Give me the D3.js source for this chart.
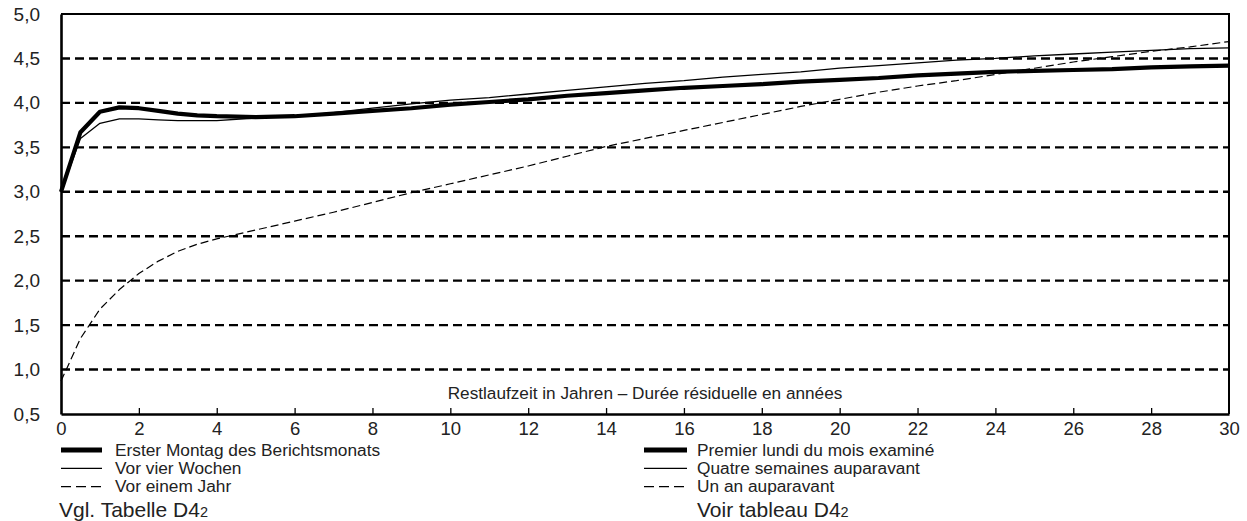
<!DOCTYPE html>
<html>
<head>
<meta charset="utf-8">
<script src="https://cdn.jsdelivr.net/npm/d3@7"></script>
<style>
  body { margin: 0; background: #fff; }
  svg { display: block; font-family: "Liberation Sans", Arial, sans-serif; }
</style>
</head>
<body>
<div class="container"></div>
<script>
// Restlaufzeit in Jahren (x)
const maturities = [0, 0.5, 1, 1.5, 2, 2.5, 3, 3.5, 4, 5, 6, 7, 8, 9, 10, 11, 12, 13, 14, 15,
  16, 17, 18, 19, 20, 21, 22, 23, 24, 25, 26, 27, 28, 29, 30];

// Erster Montag des Berichtsmonats
const current = [3.00, 3.67, 3.90, 3.95, 3.94, 3.91, 3.88, 3.86, 3.85, 3.84, 3.85, 3.88, 3.91, 3.94, 3.98,
  4.01, 4.04, 4.08, 4.11, 4.14, 4.17, 4.19, 4.21, 4.24, 4.26, 4.28, 4.31, 4.33, 4.35, 4.36, 4.37, 4.38,
  4.40, 4.41, 4.42];

// Vor vier Wochen
const fourWeeks = [3.00, 3.60, 3.77, 3.82, 3.82, 3.81, 3.80, 3.80, 3.80, 3.83, 3.85, 3.89, 3.94, 3.99, 4.03,
  4.06, 4.10, 4.14, 4.18, 4.22, 4.25, 4.29, 4.32, 4.35, 4.39, 4.42, 4.45, 4.48, 4.50, 4.53, 4.55, 4.57,
  4.59, 4.61, 4.62];

// Vor einem Jahr
const yearAgo = [0.87, 1.35, 1.68, 1.90, 2.08, 2.22, 2.33, 2.41, 2.47, 2.57, 2.67, 2.77, 2.88, 2.99, 3.09,
  3.19, 3.29, 3.40, 3.51, 3.60, 3.69, 3.78, 3.87, 3.96, 4.04, 4.12, 4.19, 4.25, 4.32, 4.39, 4.46, 4.52,
  4.58, 4.63, 4.69];

const xTicks = d3.range(0, 31, 2);
const yTicks = [0.5, 1.0, 1.5, 2.0, 2.5, 3.0, 3.5, 4.0, 4.5, 5.0];
const gridValues = [1.0, 1.5, 2.0, 2.5, 3.0, 3.5, 4.0, 4.5];

const axisTitle = "Restlaufzeit in Jahren – Durée résiduelle en années";
const legendDe = ["Erster Montag des Berichtsmonats", "Vor vier Wochen", "Vor einem Jahr"];
const legendFr = ["Premier lundi du mois examiné", "Quatre semaines auparavant", "Un an auparavant"];
const sourceDe = ["Vgl. Tabelle D4", "2"];
const sourceFr = ["Voir tableau D4", "2"];

const width = 1247, height = 521;
const x = d3.scaleLinear().domain([0, 30]).range([61, 1229]);
const y = d3.scaleLinear().domain([0.5, 5.0]).range([414, 14]);

const fmt = d => d.toFixed(1).replace(".", ",");

const svg = d3.select(".container").append("svg")
  .attr("width", width)
  .attr("height", height);

// dashed horizontal grid
svg.append("g")
  .selectAll("line")
  .data(gridValues)
  .join("line")
  .attr("x1", x(0)).attr("x2", x(30))
  .attr("y1", d => y(d)).attr("y2", d => y(d))
  .attr("stroke", "#000")
  .attr("stroke-width", 2.4)
  .attr("stroke-dasharray", "9,5");

// frame top + right
svg.append("path")
  .attr("d", `M${x(0)},${y(5)}H${x(30)}V${y(0.5)}`)
  .attr("fill", "none")
  .attr("stroke", "#000")
  .attr("stroke-width", 2);

// x axis with inward ticks
const xAxis = svg.append("g")
  .attr("transform", `translate(0,${y(0.5)})`)
  .call(d3.axisBottom(x).tickValues(xTicks).tickSizeInner(-6).tickSizeOuter(0).tickPadding(8).tickFormat(d3.format("d")));
xAxis.select(".domain").attr("stroke-width", 2.6);
xAxis.selectAll(".tick line").attr("stroke-width", 1.3);
xAxis.selectAll(".tick text")
  .attr("font-family", "Liberation Sans, Arial, sans-serif")
  .attr("font-size", 18.5)
  .attr("fill", "#222");
xAxis.selectAll(".tick").filter(d => d === 0 || d === 30).select("line").remove();

// y axis
const yAxis = svg.append("g")
  .attr("transform", `translate(${x(0)},0)`)
  .call(d3.axisLeft(y).tickValues(yTicks).tickSize(0).tickPadding(21).tickFormat(fmt));
yAxis.select(".domain").attr("stroke-width", 2.6);
yAxis.selectAll(".tick text")
  .attr("font-family", "Liberation Sans, Arial, sans-serif")
  .attr("font-size", 19)
  .attr("fill", "#222");

// axis title
svg.append("text")
  .attr("x", 645).attr("y", 399)
  .attr("text-anchor", "middle")
  .attr("font-size", 17.2)
  .attr("fill", "#222")
  .text(axisTitle);

// series
const series = [
  { values: yearAgo, width: 1.2, dash: "8,4" },
  { values: fourWeeks, width: 1.3, dash: null },
  { values: current, width: 4.2, dash: null }
];

const line = d3.line()
  .x((d, i) => x(maturities[i]))
  .y(d => y(d));

svg.append("g")
  .attr("fill", "none")
  .attr("stroke", "#000")
  .selectAll("path")
  .data(series)
  .join("path")
  .attr("stroke-width", d => d.width)
  .attr("stroke-dasharray", d => d.dash)
  .attr("stroke-linejoin", "round")
  .attr("d", d => line(d.values));

// legends
const styles = [
  { width: 5, dash: null },
  { width: 1.3, dash: null },
  { width: 1.3, dash: "10,5" }
];

function legend(labels, source, x0, x1, tx, sx) {
  const g = svg.append("g");
  labels.forEach((lab, i) => {
    const ly = 450 + i * 18.3;
    g.append("line")
      .attr("x1", x0).attr("x2", x1)
      .attr("y1", ly).attr("y2", ly)
      .attr("stroke", "#000")
      .attr("stroke-width", styles[i].width)
      .attr("stroke-dasharray", styles[i].dash);
    g.append("text")
      .attr("x", tx).attr("y", ly + 5.8)
      .attr("font-size", 17.3)
      .attr("fill", "#222")
      .text(lab);
  });
  const t = g.append("text")
    .attr("x", sx).attr("y", 516.5)
    .attr("font-size", 21)
    .attr("fill", "#222");
  t.append("tspan").text(source[0]);
  t.append("tspan").attr("font-size", 14.5).text(source[1]);
}

legend(legendDe, sourceDe, 61, 102, 115, 59);
legend(legendFr, sourceFr, 644, 687, 697, 697);
</script>
</body>
</html>
